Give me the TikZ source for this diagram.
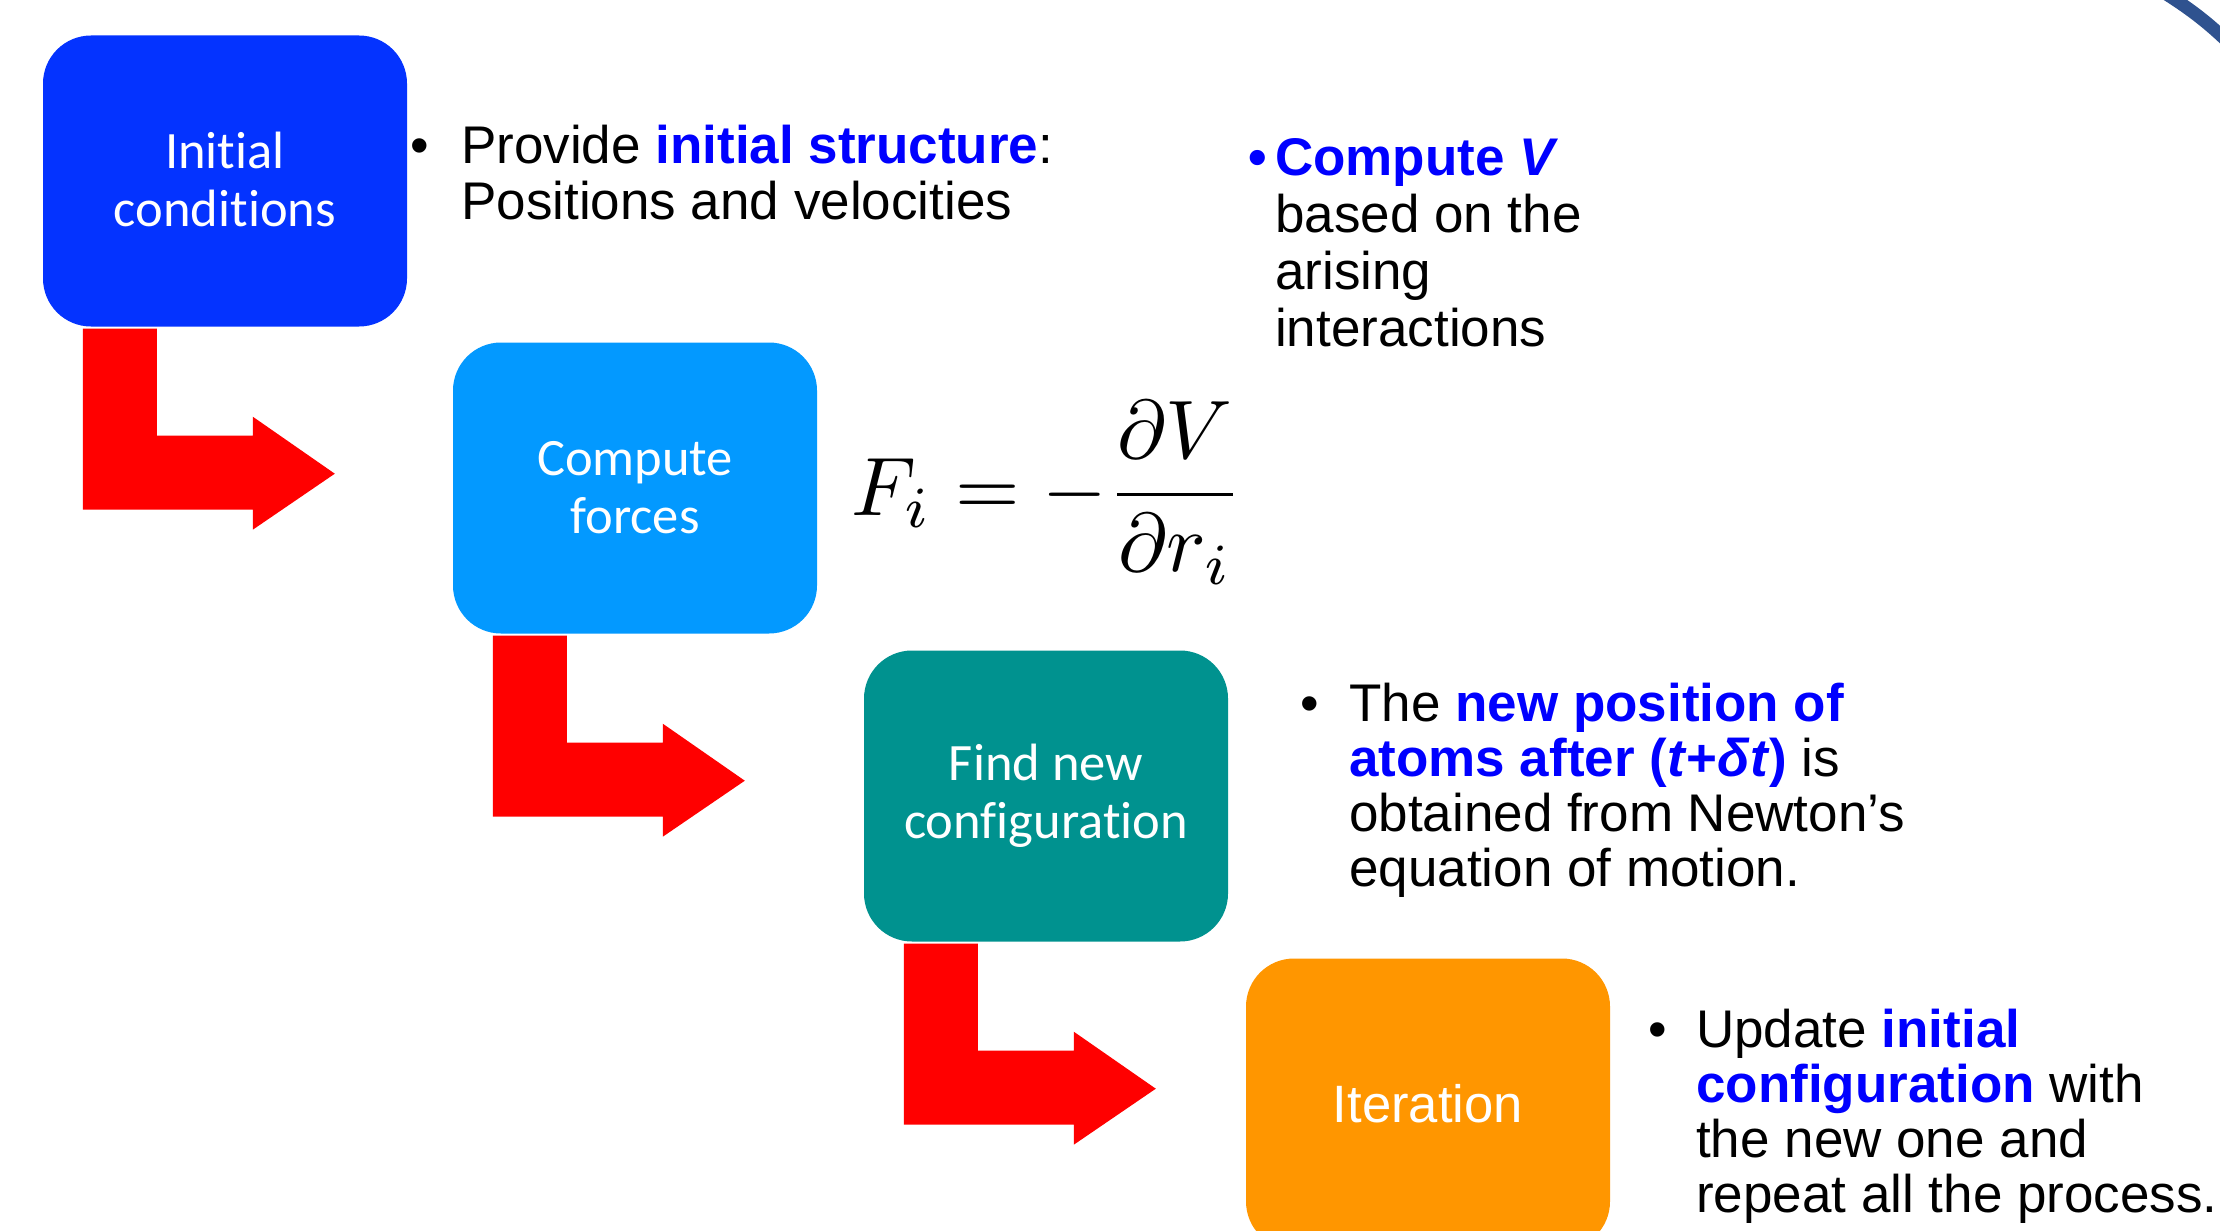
\documentclass[tikz,border=0pt]{standalone}
\usepackage{fontspec}
\setmainfont{Liberation Sans}
\newfontfamily\calibri[Ligatures={NoCommon,NoContextual}]{Carlito}
\usepackage{graphicx}
\definecolor{boxblue}{RGB}{4,51,255}
\definecolor{boxsky}{RGB}{3,153,255}
\definecolor{boxteal}{RGB}{0,146,143}
\definecolor{boxorange}{RGB}{255,150,0}
\definecolor{arrowred}{RGB}{255,0,0}
\definecolor{txtblue}{RGB}{0,0,255}
\definecolor{arcblue}{RGB}{47,82,143}
\tikzset{
  stepbox/.style={rectangle, rounded corners=48pt, minimum width=364pt, minimum height=291pt,
    inner sep=0pt, text=white, align=center, font=\calibri\fontsize{52.5}{58}\selectfont},
  bentarrow/.style={fill=arrowred},
  bodytext/.style={anchor=base west, inner sep=0pt, font=\fontsize{53}{56}\selectfont},
  bulletmark/.style={anchor=base, inner sep=0pt, font=\fontsize{53}{56}\selectfont},
}
\newcommand\myarrow[1]{%
  \fill[bentarrow] ([shift={(40,2)}]#1.south west) -- ++(74,0) -- ++(0,107) -- ++(96,0)
    -- ++(0,-19) -- ++(82,57) -- ++(-82,56) -- ++(0,-20) -- ++(-170,0) -- cycle;}
\begin{document}
\begin{tikzpicture}[x=1pt,y=-1pt]
\useasboundingbox (0,0) rectangle (2220,1231);
\clip (0,0) rectangle (2220,1231);
\fill[white] (0,0) rectangle (2220,1231);

% boxes
\node[stepbox, fill=boxblue]   (init) at (225,181)  {\raisebox{3pt}{Initial}\\\raisebox{3pt}{conditions}};
\node[stepbox, fill=boxsky]    (forc) at (635,488)  {\raisebox{2pt}{Compute}\\\raisebox{2pt}{forces}};
\node[stepbox, fill=boxteal]   (conf) at (1046,796) {Find new\\configuration};
\node[stepbox, fill=boxorange, font=\fontsize{52.6}{58}\selectfont] (iter) at (1428,1104) {Iteration};

% bent arrows
\myarrow{init}
\myarrow{forc}
\myarrow{conf}

% text block A
\node[bulletmark] (bA) at (420,163) {•};
\node[bodytext] (tA) at (461,163) {\parbox[t]{900pt}{\raggedright
  Provide \textcolor{txtblue}{\bfseries initial structure}:\\Positions and velocities}};

% text block B
\node[bulletmark, text=txtblue, font=\bfseries\fontsize{53}{56}\selectfont] (bB) at (1258,175) {•};
\node[bodytext, font=\fontsize{53}{57}\selectfont] (tB) at (1275,175) {\parbox[t]{900pt}{\raggedright
  \textcolor{txtblue}{\bfseries Compute \textit{V}}\\based on the\\arising\\interactions}};

% equation
\node[anchor=base west, inner sep=0pt] (eq) at (851,515)
  {\scalebox{8.3}{$\displaystyle F_i = -\frac{\partial V}{\partial r_i}$}};

% text block C
\node[bulletmark] (bC) at (1310,721) {•};
\node[bodytext, font=\fontsize{53}{55}\selectfont] (tC) at (1349,721) {\parbox[t]{900pt}{\raggedright
  The \textcolor{txtblue}{\bfseries new position of}\\
  \textcolor{txtblue}{\bfseries atoms after (\textit{t}+\textit{δt})} is\\
  obtained from Newton’s\\equation of motion.}};

% text block D
\node[bulletmark] (bD) at (1658,1047) {•};
\node[bodytext, font=\fontsize{53}{55}\selectfont] (tD) at (1696,1047) {\parbox[t]{900pt}{\raggedright
  Update \textcolor{txtblue}{\bfseries initial}\\
  \textcolor{txtblue}{\bfseries configuration} with\\
  the new one and\\repeat all the process.}};

% corner arc
\draw[arcblue, line width=13pt] (2160,-10) .. controls (2186,6) and (2208,22) .. (2232,46);
\end{tikzpicture}
\end{document}
